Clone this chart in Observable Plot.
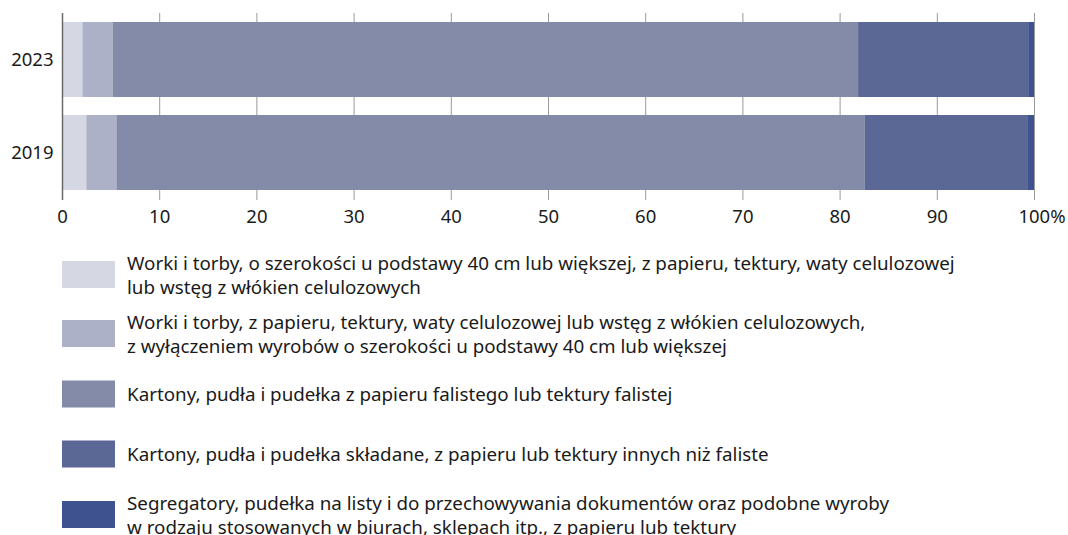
<!DOCTYPE html>
<html><head><meta charset="utf-8">
<script src="https://cdn.jsdelivr.net/npm/d3@7"></script>
<script src="https://cdn.jsdelivr.net/npm/@observablehq/plot@0.6"></script>
<style>
body{margin:0;background:#fff;font-family:"Noto Sans",sans-serif;color:#1a1a1a;}
#wrap{position:relative;width:1068px;height:535px;overflow:hidden;}
.row{position:absolute;left:62px;display:flex;align-items:center;transform:translateY(-50%);}
.sw{width:53px;height:27px;flex:none;}
.lab{margin-left:12px;font-size:18.8px;line-height:24px;white-space:nowrap;}
</style></head>
<body><div id="wrap"></div>
<script>
const years = ["2023", "2019"];
const categories = [
  "Worki i torby, o szerokości u podstawy 40 cm lub większej, z papieru, tektury, waty celulozowej\nlub wstęg z włókien celulozowych",
  "Worki i torby, z papieru, tektury, waty celulozowej lub wstęg z włókien celulozowych,\nz wyłączeniem wyrobów o szerokości u podstawy 40 cm lub większej",
  "Kartony, pudła i pudełka z papieru falistego lub tektury falistej",
  "Kartony, pudła i pudełka składane, z papieru lub tektury innych niż faliste",
  "Segregatory, pudełka na listy i do przechowywania dokumentów oraz podobne wyroby\nw rodzaju stosowanych w biurach, sklepach itp., z papieru lub tektury"
];
const values2023 = [2.1, 3.1, 76.7, 17.5, 0.6];
const values2019 = [2.5, 3.1, 77.0, 16.7, 0.7];
const colors = ["#d5d8e3", "#adb1c7", "#838ba9", "#5b6895", "#3f5290"];
const xTicks = [0, 10, 20, 30, 40, 50, 60, 70, 80, 90];

const seriesByYear = {"2023": values2023, "2019": values2019};
const table = years.flatMap(y => categories.map((c, i) => ({year: y, cat: c, value: seriesByYear[y][i]})));

const chart = Plot.plot({
  width: 1068,
  height: 230,
  marginLeft: 62,
  marginRight: 34,
  marginTop: 13,
  marginBottom: 30,
  style: {fontFamily: "Noto Sans", fontSize: "18.5px", color: "#1a1a1a", background: "#fff"},
  x: {domain: [0, 100], label: null},
  y: {domain: years, paddingInner: 0.19, paddingOuter: 0.09, label: null},
  color: {domain: categories, range: colors},
  marks: [
    Plot.gridX([...xTicks.slice(1), 100], {stroke: "#9a9a9a", strokeOpacity: 1, strokeWidth: 1}),
    Plot.barX(table, Plot.stackX({x: "value", y: "year", fill: "cat", order: categories})),
    Plot.ruleX([0], {stroke: "#6a6a6a", strokeWidth: 1.5}),
    Plot.axisX(xTicks, {tickSize: 0, tickPadding: 9, fill: "#1a1a1a", fontSize: "18.5px", label: null}),
    Plot.axisX([100], {tickSize: 0, tickPadding: 9, tickFormat: () => "100%", dx: 7.5, fill: "#1a1a1a", fontSize: "18.5px", label: null}),
    Plot.axisY({tickSize: 0, tickPadding: 9, fill: "#1a1a1a", fontSize: "18.5px", label: null})
  ]
});
const wrap = document.getElementById("wrap");
wrap.appendChild(chart);

const centers = [274.5, 333.5, 393.5, 453.5, 514.5];
categories.forEach((c, i) => {
  const row = document.createElement("div");
  row.className = "row";
  row.style.top = centers[i] + "px";
  const sw = document.createElement("div");
  sw.className = "sw";
  sw.style.background = colors[i];
  const lab = document.createElement("div");
  lab.className = "lab";
  lab.innerHTML = c.split("\n").join("<br>");
  row.appendChild(sw);
  row.appendChild(lab);
  wrap.appendChild(row);
});
</script></body></html>
